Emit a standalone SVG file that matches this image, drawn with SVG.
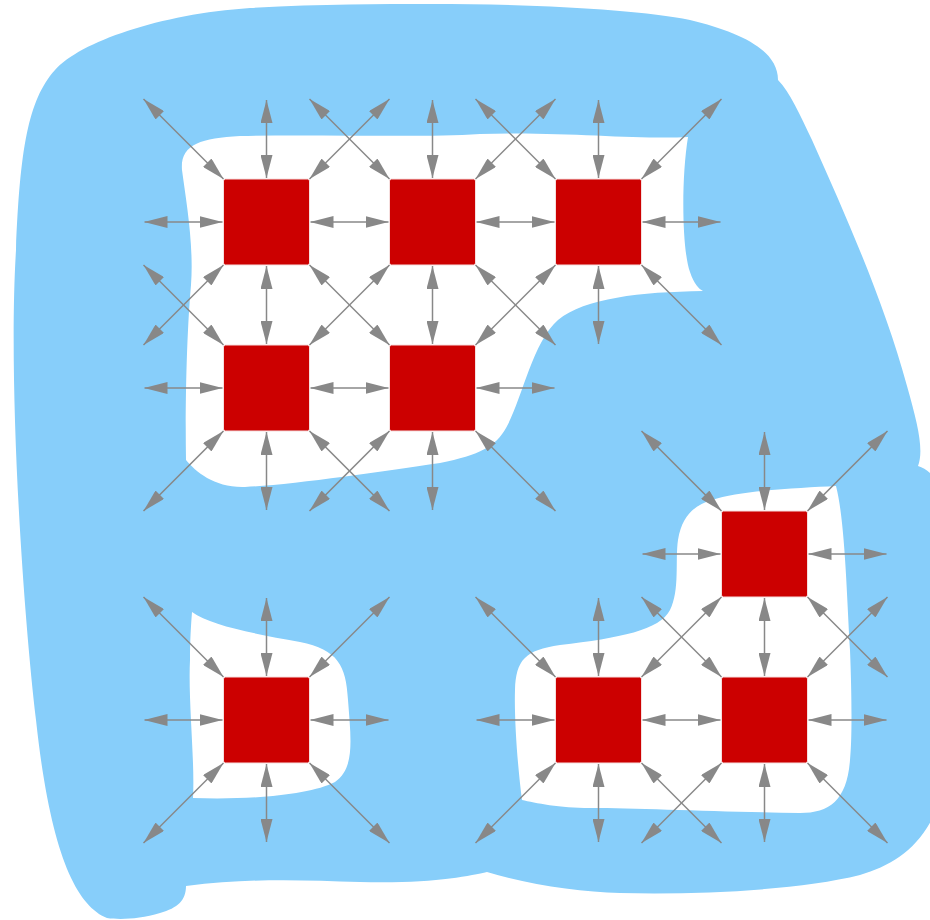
<svg xmlns="http://www.w3.org/2000/svg" width="930" height="920" viewBox="0 0 930 920">
<defs>
<marker id="ah" viewBox="0 0 23 12" refX="23" refY="6" markerWidth="23" markerHeight="12" markerUnits="userSpaceOnUse" orient="auto-start-reverse">
<path d="M0,0 L23,6 L0,12 Z" fill="#888888"/>
</marker>
</defs>
<style>
.blue{fill:#87CEFA;stroke:none}
.hole{fill:#ffffff;stroke:none}
.c line{stroke:#888888;stroke-width:1.5;marker-start:url(#ah);marker-end:url(#ah)}
.n rect{fill:#CC0000;stroke:#f6dede;stroke-width:1}
</style>
<g id="background">
<path class="blue" d="M107,918 C75,905 50,850 36,720 C22,600 8,380 16,250 C20,150 28,100 55,70 C80,42 160,14 250,8 C320,4 380,4 430,4 C540,4 640,10 690,20 C740,32 778,50 778,80 C790,92 800,115 812,140 C850,225 885,305 907,386 C918,425 924,450 918,466 C930,470 940,480 940,500 L940,800 C925,845 895,865 860,875 C800,890 700,895 620,893 C580,892 530,885 487,872 C470,876 430,884 360,882 C300,880 250,878 186,886 C186,900 178,908 160,913 C140,919 120,920 107,918 Z"/>
<path class="hole" d="M182,170 C180,145 200,138 240,136 C320,134 420,138 480,134 C560,131 640,140 688,137 C681,180 682,250 690,272 C694,284 699,289 703,291 C640,292 585,298 558,320 C532,343 522,400 506,428 C496,446 480,455 440,463 C380,472 290,485 245,487 C215,488 196,472 186,460 C185,400 187,330 191,285 C194,245 186,200 182,170 Z"/>
<path class="hole" d="M192,612 C210,625 250,633 300,642 C338,650 346,665 348,700 C351,740 355,768 335,782 C310,795 250,800 193,798 C195,760 188,700 190,660 C190,640 191,625 192,612 Z"/>
<path class="hole" d="M712,500 C740,490 800,488 836,486 C845,520 847,600 850,650 C852,700 852,740 850,760 C847,800 830,813 800,813 C720,812 640,808 590,808 C560,808 535,803 522,800 C518,770 514,720 515,690 C516,660 525,650 560,645 C620,638 660,630 670,610 C680,590 675,560 678,540 C682,515 695,505 712,500 Z"/>
</g>
<g id="connectors" class="c">
<line x1="144.5" y1="222" x2="222.5" y2="222"/>
<line x1="310.5" y1="222" x2="388.5" y2="222"/>
<line x1="476.5" y1="222" x2="554.5" y2="222"/>
<line x1="642.5" y1="222" x2="720.5" y2="222"/>
<line x1="144.5" y1="388" x2="222.5" y2="388"/>
<line x1="310.5" y1="388" x2="388.5" y2="388"/>
<line x1="476.5" y1="388" x2="554.5" y2="388"/>
<line x1="642.5" y1="554" x2="720.5" y2="554"/>
<line x1="808.5" y1="554" x2="886.5" y2="554"/>
<line x1="144.5" y1="720" x2="222.5" y2="720"/>
<line x1="310.5" y1="720" x2="388.5" y2="720"/>
<line x1="476.5" y1="720" x2="554.5" y2="720"/>
<line x1="642.5" y1="720" x2="720.5" y2="720"/>
<line x1="808.5" y1="720" x2="886.5" y2="720"/>
<line x1="266.5" y1="100" x2="266.5" y2="178"/>
<line x1="266.5" y1="266" x2="266.5" y2="344"/>
<line x1="266.5" y1="432" x2="266.5" y2="510"/>
<line x1="266.5" y1="598" x2="266.5" y2="676"/>
<line x1="266.5" y1="764" x2="266.5" y2="842"/>
<line x1="432.5" y1="100" x2="432.5" y2="178"/>
<line x1="432.5" y1="266" x2="432.5" y2="344"/>
<line x1="432.5" y1="432" x2="432.5" y2="510"/>
<line x1="598.5" y1="100" x2="598.5" y2="178"/>
<line x1="598.5" y1="266" x2="598.5" y2="344"/>
<line x1="598.5" y1="598" x2="598.5" y2="676"/>
<line x1="598.5" y1="764" x2="598.5" y2="842"/>
<line x1="764.5" y1="432" x2="764.5" y2="510"/>
<line x1="764.5" y1="598" x2="764.5" y2="676"/>
<line x1="764.5" y1="764" x2="764.5" y2="842"/>
<line x1="143.5" y1="99" x2="223.5" y2="179"/>
<line x1="309.5" y1="99" x2="389.5" y2="179"/>
<line x1="475.5" y1="99" x2="555.5" y2="179"/>
<line x1="143.5" y1="265" x2="223.5" y2="345"/>
<line x1="309.5" y1="265" x2="389.5" y2="345"/>
<line x1="475.5" y1="265" x2="555.5" y2="345"/>
<line x1="641.5" y1="265" x2="721.5" y2="345"/>
<line x1="309.5" y1="431" x2="389.5" y2="511"/>
<line x1="475.5" y1="431" x2="555.5" y2="511"/>
<line x1="641.5" y1="431" x2="721.5" y2="511"/>
<line x1="807.5" y1="597" x2="887.5" y2="677"/>
<line x1="143.5" y1="597" x2="223.5" y2="677"/>
<line x1="309.5" y1="763" x2="389.5" y2="843"/>
<line x1="475.5" y1="597" x2="555.5" y2="677"/>
<line x1="641.5" y1="763" x2="721.5" y2="843"/>
<line x1="641.5" y1="597" x2="721.5" y2="677"/>
<line x1="807.5" y1="763" x2="887.5" y2="843"/>
<line x1="309.5" y1="179" x2="389.5" y2="99"/>
<line x1="143.5" y1="345" x2="223.5" y2="265"/>
<line x1="475.5" y1="179" x2="555.5" y2="99"/>
<line x1="309.5" y1="345" x2="389.5" y2="265"/>
<line x1="641.5" y1="179" x2="721.5" y2="99"/>
<line x1="475.5" y1="345" x2="555.5" y2="265"/>
<line x1="143.5" y1="511" x2="223.5" y2="431"/>
<line x1="309.5" y1="511" x2="389.5" y2="431"/>
<line x1="807.5" y1="511" x2="887.5" y2="431"/>
<line x1="641.5" y1="677" x2="721.5" y2="597"/>
<line x1="309.5" y1="677" x2="389.5" y2="597"/>
<line x1="143.5" y1="843" x2="223.5" y2="763"/>
<line x1="475.5" y1="843" x2="555.5" y2="763"/>
<line x1="807.5" y1="677" x2="887.5" y2="597"/>
<line x1="641.5" y1="843" x2="721.5" y2="763"/>
</g>
<g id="n00" class="n"><rect x="223.5" y="179" width="86" height="86" rx="2"/></g>
<g id="n10" class="n"><rect x="389.5" y="179" width="86" height="86" rx="2"/></g>
<g id="n20" class="n"><rect x="555.5" y="179" width="86" height="86" rx="2"/></g>
<g id="n01" class="n"><rect x="223.5" y="345" width="86" height="86" rx="2"/></g>
<g id="n11" class="n"><rect x="389.5" y="345" width="86" height="86" rx="2"/></g>
<g id="n32" class="n"><rect x="721.5" y="511" width="86" height="86" rx="2"/></g>
<g id="n03" class="n"><rect x="223.5" y="677" width="86" height="86" rx="2"/></g>
<g id="n23" class="n"><rect x="555.5" y="677" width="86" height="86" rx="2"/></g>
<g id="n33" class="n"><rect x="721.5" y="677" width="86" height="86" rx="2"/></g>
</svg>
